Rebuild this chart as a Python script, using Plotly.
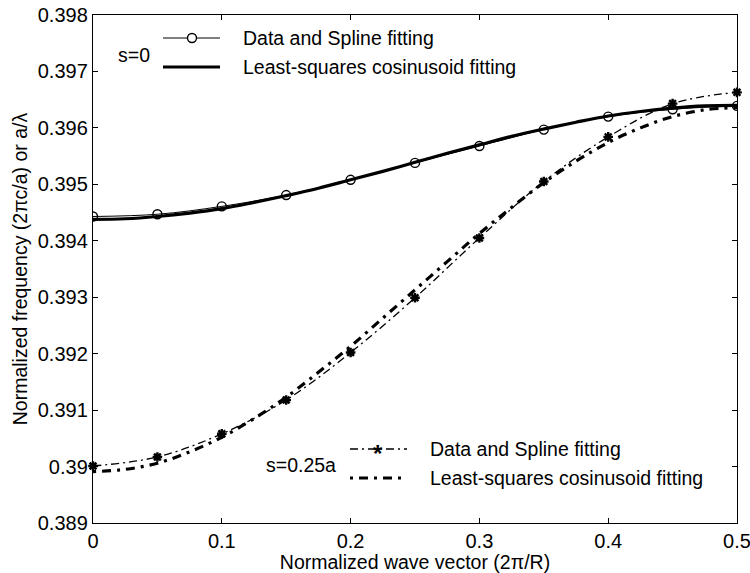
import plotly.graph_objects as go

# ---------------- data ----------------
k_data = [0.0, 0.05, 0.1, 0.15, 0.2, 0.25, 0.3, 0.35, 0.4, 0.45, 0.5]
f_s0_data = [0.39443, 0.39447, 0.39461, 0.39481, 0.39508, 0.39538, 0.39568, 0.39597, 0.39620, 0.39633, 0.39639]
f_s025_data = [0.39001, 0.39017, 0.39058, 0.39118, 0.39202, 0.39299, 0.39405, 0.39505, 0.39584, 0.39643, 0.39663]

k_fit = [0.0, 0.025, 0.05, 0.075, 0.1, 0.125, 0.15, 0.175, 0.2, 0.225, 0.25,
         0.275, 0.3, 0.325, 0.35, 0.375, 0.4, 0.425, 0.45, 0.475, 0.5]
f_s0_fit = [0.39438, 0.39439, 0.39443, 0.39449, 0.39457, 0.39468, 0.39480, 0.39493, 0.39508, 0.39523, 0.39539,
            0.39555, 0.39570, 0.39585, 0.39598, 0.39610, 0.39621, 0.39629, 0.39635, 0.39639, 0.39640]
f_s025_fit = [0.38991, 0.38995, 0.39006, 0.39026, 0.39052, 0.39085, 0.39123, 0.39167, 0.39213, 0.39263, 0.39313,
              0.39363, 0.39413, 0.39459, 0.39503, 0.39541, 0.39574, 0.39600, 0.39620, 0.39632, 0.39636]

x_ticks = [0, 0.1, 0.2, 0.3, 0.4, 0.5]
x_ticktext = ["0", "0.1", "0.2", "0.3", "0.4", "0.5"]
y_ticks = [0.389, 0.390, 0.391, 0.392, 0.393, 0.394, 0.395, 0.396, 0.397, 0.398]
y_ticktext = ["0.389", "0.39", "0.391", "0.392", "0.393", "0.394", "0.395", "0.396", "0.397", "0.398"]

legend_top = ["Data and Spline fitting", "Least-squares cosinusoid fitting"]
legend_bot = ["Data and Spline fitting", "Least-squares cosinusoid fitting"]
label_s0 = "s=0"
label_s025 = "s=0.25a"

# ---------------- layout geometry (pixels) ----------------
W, H = 750, 573
L, R, T, B = 93, 737, 15, 523
FONT = "Liberation Sans, Arial, Helvetica, sans-serif"
FS = 19.5

def px(xp):
    return (xp - L) / (R - L)

def py(yp):
    return (B - yp) / (B - T)

fig = go.Figure()

# s=0 fit (thick solid)
fig.add_trace(go.Scatter(x=k_fit, y=f_s0_fit, mode="lines", line=dict(color="black", width=3.2, shape="spline"),
                         showlegend=False))
# s=0 data + spline
fig.add_trace(go.Scatter(x=k_data, y=f_s0_data, mode="lines+markers",
                         line=dict(color="black", width=1, shape="spline"),
                         marker=dict(symbol="circle-open", size=9, color="black", line=dict(width=1.4)),
                         showlegend=False))
# s=0.25a fit (thick dash-dot)
fig.add_trace(go.Scatter(x=k_fit, y=f_s025_fit, mode="lines",
                         line=dict(color="black", width=3.2, shape="spline", dash="3px,6px,9px,6px"),
                         showlegend=False))
# s=0.25a data + spline (thin dash-dot)
fig.add_trace(go.Scatter(x=k_data, y=f_s025_data, mode="lines+markers",
                         line=dict(color="black", width=1.3, shape="spline", dash="8px,4px,2px,4px"),
                         marker=dict(symbol="asterisk-open", size=8, color="black", line=dict(width=2.4, color="black")),
                         showlegend=False, cliponaxis=False))

shapes = []
annotations = []

def legend_row(x0p, x1p, yp, text, style):
    shapes.append(dict(type="line", xref="paper", yref="paper", x0=px(x0p), x1=px(x1p), y0=py(yp), y1=py(yp),
                       line=style))
    annotations.append(dict(xref="paper", yref="paper", x=px(x1p + 21), y=py(yp), text=text, showarrow=False,
                            xanchor="left", yanchor="middle", font=dict(size=FS, color="black", family=FONT)))

# top legend
legend_row(163, 220, 38, legend_top[0], dict(color="black", width=1))
legend_row(163, 220, 67, legend_top[1], dict(color="black", width=3.2))
shapes.append(dict(type="circle", xref="paper", yref="paper", xsizemode="pixel", ysizemode="pixel",
                   xanchor=px(192), yanchor=py(38), x0=-4.5, x1=4.5, y0=-4.5, y1=4.5,
                   line=dict(color="black", width=1.4), fillcolor="white"))
annotations.append(dict(xref="paper", yref="paper", x=px(116), y=py(55), text=label_s0, showarrow=False,
                        xanchor="left", yanchor="middle", font=dict(size=FS, color="black", family=FONT)))

# bottom legend
legend_row(350, 407, 449, legend_bot[0], dict(color="black", width=1.3, dash="8px,4px,2px,4px"))
legend_row(350, 407, 478, legend_bot[1], dict(color="black", width=3.2, dash="3px,6px,9px,6px"))
annotations.append(dict(xref="paper", yref="paper", x=px(378), y=py(449), yshift=-4, text="<b>*</b>", showarrow=False,
                        xanchor="center", yanchor="middle", font=dict(size=24, color="black", family=FONT)))
annotations.append(dict(xref="paper", yref="paper", x=px(264), y=py(465), text=label_s025, showarrow=False,
                        xanchor="left", yanchor="middle", font=dict(size=FS, color="black", family=FONT)))

fig.update_layout(
    width=W, height=H,
    margin=dict(l=L, r=W - R, t=T, b=H - B, autoexpand=False),
    paper_bgcolor="white", plot_bgcolor="white",
    font=dict(family=FONT, size=FS, color="black"),
    shapes=shapes, annotations=annotations,
    showlegend=False,
)
fig.update_xaxes(range=[0, 0.5], tickvals=x_ticks, ticktext=x_ticktext, ticks="inside", ticklen=5,
                 showline=True, linecolor="black", linewidth=1.4, mirror="ticks", showgrid=False, zeroline=False,
                 tickcolor="black", tickfont=dict(size=20), ticklabeloverflow="allow", automargin=False,
                 title=dict(text="Normalized wave vector (2\u03c0/R)", font=dict(size=FS), standoff=0))
fig.update_yaxes(range=[0.389, 0.398], tickvals=y_ticks, ticktext=y_ticktext, ticks="inside", ticklen=5,
                 showline=True, linecolor="black", linewidth=1.4, mirror="ticks", showgrid=False, zeroline=False,
                 tickcolor="black", tickfont=dict(size=20), ticklabeloverflow="allow", automargin=False,
                 title=dict(text="Normalized frequency (2\u03c0c/a) or a/\u03bb", font=dict(size=FS), standoff=4))

fig.write_html("out.html")
